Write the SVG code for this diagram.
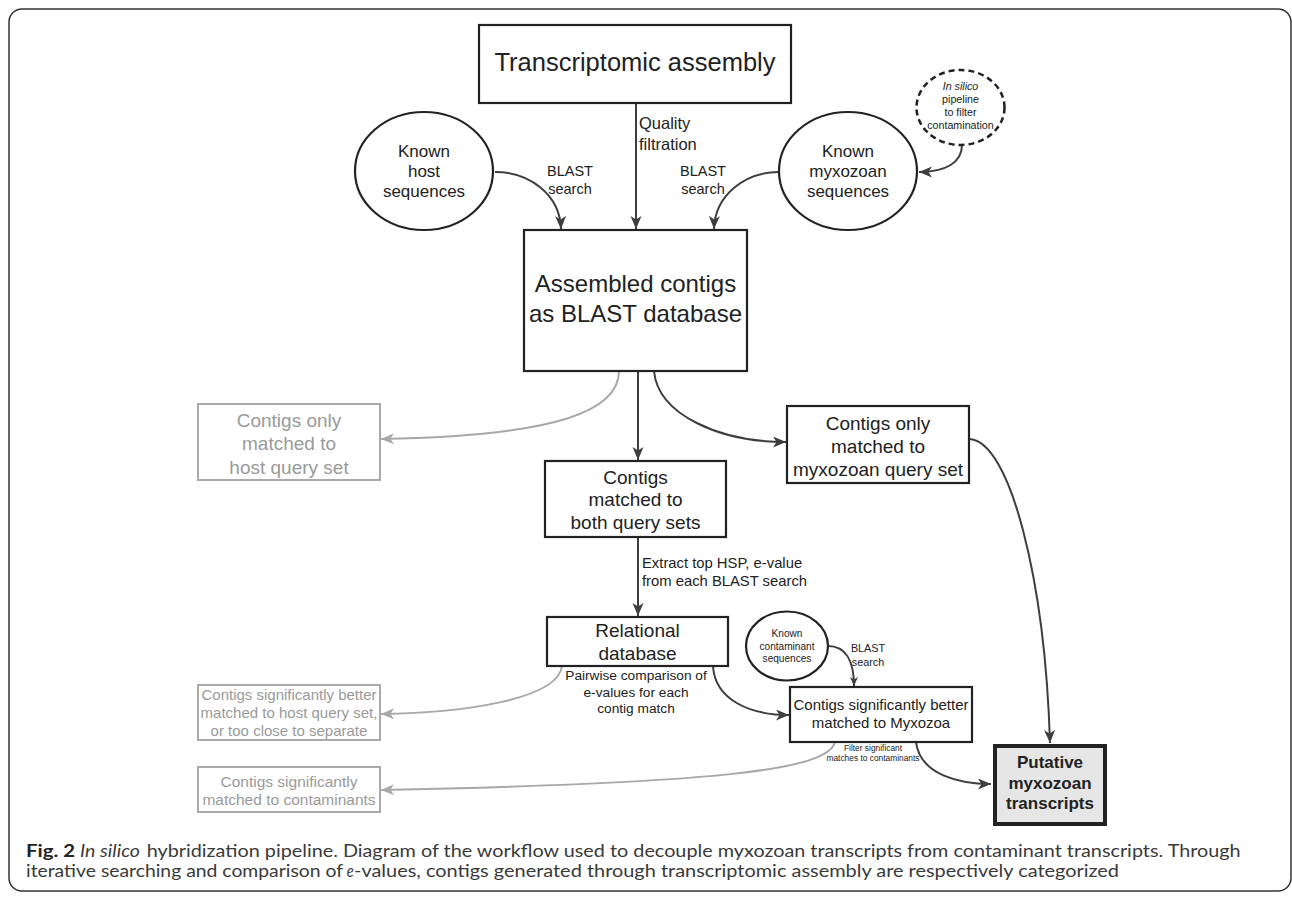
<svg xmlns="http://www.w3.org/2000/svg" width="1292" height="897" viewBox="0 0 1292 897">
<defs>
<style>
text{font-family:"Liberation Sans",Arial,sans-serif;fill:#222}
.box{fill:#fff;stroke:#222;stroke-width:2.2}
.gbox{fill:#fff;stroke:#aaa;stroke-width:2}
.gt{fill:#9a9a9a}
.c{text-anchor:middle}
.con{fill:none;stroke:#3e3e3e;stroke-width:2}
.gcon{fill:none;stroke:#a8a8a8;stroke-width:2}
.cap{font-family:Lato,"Open Sans",sans-serif;font-size:16.5px;fill:#3a3a3a}
</style>
<marker id="ad" markerUnits="userSpaceOnUse" markerWidth="14" markerHeight="12" refX="13" refY="5.5" orient="auto">
<path d="M0,0 L13,5.5 L0,11 L3.5,5.5 Z" fill="#3e3e3e"/>
</marker>
<marker id="ag" markerUnits="userSpaceOnUse" markerWidth="14" markerHeight="12" refX="13" refY="5.5" orient="auto">
<path d="M0,0 L13,5.5 L0,11 L3.5,5.5 Z" fill="#a8a8a8"/>
</marker>
<marker id="as" markerUnits="userSpaceOnUse" markerWidth="10" markerHeight="9" refX="9" refY="4" orient="auto">
<path d="M0,0 L9,4 L0,8 L2.5,4 Z" fill="#3e3e3e"/>
</marker>
</defs>
<rect x="9" y="9" width="1282" height="882" rx="13" fill="#fff" stroke="#333" stroke-width="1.5"/>

<g id="connectors">
<path class="con" d="M636,103 L636,229" marker-end="url(#ad)"/>
<path class="con" d="M495,172 C530,172 560,195 561,229" marker-end="url(#ad)"/>
<path class="con" d="M779,172 C745,172 715,195 714,229" marker-end="url(#ad)"/>
<path class="con" d="M962,145 C962,163 945,172 919,172" marker-end="url(#ad)"/>
<path class="gcon" d="M619,371 C619,410 560,436 381,439" marker-end="url(#ag)"/>
<path class="con" d="M638,371 L638,460" marker-end="url(#ad)"/>
<path class="con" d="M654,371 C658,415 720,442 786,442" marker-end="url(#ad)"/>
<path class="con" d="M638,537 L638,616" marker-end="url(#ad)"/>
<path class="gcon" d="M562,666 C558,700 460,713 381,714" marker-end="url(#ag)"/>
<path class="con" d="M713,666 C715,700 750,715 789,715" marker-end="url(#ad)"/>
<path class="con" d="M828,646 C845,646 854,660 854,686" stroke-width="1.5" marker-end="url(#as)"/>
<path class="gcon" d="M835,742 C828,770 720,783 381,790" marker-end="url(#ag)"/>
<path class="con" d="M916,742 C920,775 960,784 991,784" marker-end="url(#ad)"/>
<path class="con" d="M969,439 C1010,440 1045,580 1050,743" marker-end="url(#ad)"/>
</g>

<g id="transcriptomic-assembly">
<rect class="box" x="479" y="25" width="312" height="78"/>
<text class="c" x="635" y="71" font-size="25.5">Transcriptomic assembly</text>
</g>
<g id="quality-label">
<text x="639" y="129" font-size="16.5">Quality</text>
<text x="639" y="150" font-size="16.5">filtration</text>
</g>
<g id="known-host">
<ellipse cx="424" cy="171" rx="69" ry="59" fill="#fff" stroke="#222" stroke-width="2.2"/>
<text class="c" x="424" y="157" font-size="17">Known</text>
<text class="c" x="424" y="177" font-size="17">host</text>
<text class="c" x="424" y="197" font-size="17">sequences</text>
</g>
<g id="host-blast-label">
<text class="c" x="570" y="176" font-size="14.5">BLAST</text>
<text class="c" x="570" y="194" font-size="14.5">search</text>
</g>
<g id="known-myxozoan">
<ellipse cx="848" cy="171" rx="69" ry="59" fill="#fff" stroke="#222" stroke-width="2.2"/>
<text class="c" x="848" y="157" font-size="17">Known</text>
<text class="c" x="848" y="177" font-size="17">myxozoan</text>
<text class="c" x="848" y="197" font-size="17">sequences</text>
</g>
<g id="myxo-blast-label">
<text class="c" x="703" y="176" font-size="14.5">BLAST</text>
<text class="c" x="703" y="194" font-size="14.5">search</text>
</g>
<g id="in-silico-pipeline">
<ellipse cx="960.5" cy="107.5" rx="44" ry="37.5" fill="#fff" stroke="#222" stroke-width="2.5" stroke-dasharray="6,4"/>
<text class="c" x="960.5" y="90" font-size="10.7" font-style="italic">In silico</text>
<text class="c" x="960.5" y="103" font-size="10.7">pipeline</text>
<text class="c" x="960.5" y="116" font-size="10.7">to filter</text>
<text class="c" x="960.5" y="129" font-size="10.7">contamination</text>
</g>
<g id="assembled-contigs">
<rect class="box" x="524" y="230" width="223" height="141"/>
<text class="c" x="635.5" y="292" font-size="24">Assembled contigs</text>
<text class="c" x="635.5" y="322" font-size="24">as BLAST database</text>
</g>
<g id="host-only">
<rect class="gbox" x="198" y="404" width="182" height="76"/>
<text class="c gt" x="289" y="427" font-size="19">Contigs only</text>
<text class="c gt" x="289" y="450" font-size="19">matched to</text>
<text class="c gt" x="289" y="474" font-size="19">host query set</text>
</g>
<g id="myxozoan-only">
<rect class="box" x="787" y="406" width="182" height="77"/>
<text class="c" x="878" y="430" font-size="19">Contigs only</text>
<text class="c" x="878" y="453" font-size="19">matched to</text>
<text class="c" x="878" y="476" font-size="19">myxozoan query set</text>
</g>
<g id="both-query-sets">
<rect class="box" x="545" y="461" width="181" height="76"/>
<text class="c" x="635.5" y="484" font-size="19">Contigs</text>
<text class="c" x="635.5" y="506" font-size="19">matched to</text>
<text class="c" x="635.5" y="529" font-size="19">both query sets</text>
</g>
<g id="extract-label">
<text x="642" y="568" font-size="14.8">Extract top HSP, e-value</text>
<text x="642" y="586" font-size="14.8">from each BLAST search</text>
</g>
<g id="relational-database">
<rect class="box" x="547" y="617" width="181" height="49"/>
<text class="c" x="637.5" y="637" font-size="19">Relational</text>
<text class="c" x="637.5" y="660" font-size="19">database</text>
</g>
<g id="pairwise-label">
<text class="c" x="636" y="680" font-size="13.7">Pairwise comparison of</text>
<text class="c" x="636" y="697" font-size="13.7">e-values for each</text>
<text class="c" x="636" y="713" font-size="13.7">contig match</text>
</g>
<g id="host-better">
<rect class="gbox" x="198" y="685" width="182" height="55"/>
<text class="c gt" x="289" y="699.5" font-size="15">Contigs significantly better</text>
<text class="c gt" x="289" y="717.5" font-size="15">matched to host query set,</text>
<text class="c gt" x="289" y="735.5" font-size="15">or too close to separate</text>
</g>
<g id="known-contaminant">
<ellipse cx="787" cy="646" rx="41" ry="34.5" fill="#fff" stroke="#222" stroke-width="2.2"/>
<text class="c" x="787" y="637" font-size="10.1">Known</text>
<text class="c" x="787" y="650" font-size="10.1">contaminant</text>
<text class="c" x="787" y="662" font-size="10.1">sequences</text>
</g>
<g id="contaminant-blast-label">
<text class="c" x="868" y="652" font-size="10.8">BLAST</text>
<text class="c" x="868" y="666" font-size="10.8">search</text>
</g>
<g id="myxozoa-better">
<rect class="box" x="790" y="687" width="182" height="55"/>
<text class="c" x="881" y="710" font-size="15">Contigs significantly better</text>
<text class="c" x="881" y="728" font-size="15">matched to Myxozoa</text>
</g>
<g id="filter-label">
<text class="c" x="873" y="751" font-size="8.4">Filter significant</text>
<text class="c" x="873" y="761" font-size="8.4">matches to contaminants</text>
</g>
<g id="contaminant-matched">
<rect class="gbox" x="198" y="767" width="182" height="45"/>
<text class="c gt" x="289" y="786.5" font-size="15.5">Contigs significantly</text>
<text class="c gt" x="289" y="804.5" font-size="15.5">matched to contaminants</text>
</g>
<g id="putative-transcripts">
<rect x="995" y="746" width="110" height="78" fill="#e6e6e6" stroke="#222" stroke-width="4"/>
<text class="c" x="1050" y="768" font-size="17" font-weight="bold">Putative</text>
<text class="c" x="1050" y="789" font-size="17" font-weight="bold">myxozoan</text>
<text class="c" x="1050" y="809" font-size="17" font-weight="bold">transcripts</text>
</g>

<g id="caption">
<text class="cap" x="26" y="857" font-weight="bold" textLength="49" lengthAdjust="spacingAndGlyphs" style="fill:#222">Fig. 2</text>
<text class="cap" x="80" y="857" font-style="italic" textLength="60" lengthAdjust="spacingAndGlyphs">In silico</text>
<text class="cap" x="146.7" y="857" textLength="1094" lengthAdjust="spacingAndGlyphs">hybridization pipeline. Diagram of the workflow used to decouple myxozoan transcripts from contaminant transcripts. Through</text>
<text class="cap" x="26" y="877" textLength="317" lengthAdjust="spacingAndGlyphs">iterative searching and comparison of</text>
<text class="cap" x="346.7" y="877" font-style="italic" textLength="7" lengthAdjust="spacingAndGlyphs">e</text>
<text class="cap" x="354" y="877" textLength="765" lengthAdjust="spacingAndGlyphs">-values, contigs generated through transcriptomic assembly are respectively categorized</text>
</g>
</svg>
